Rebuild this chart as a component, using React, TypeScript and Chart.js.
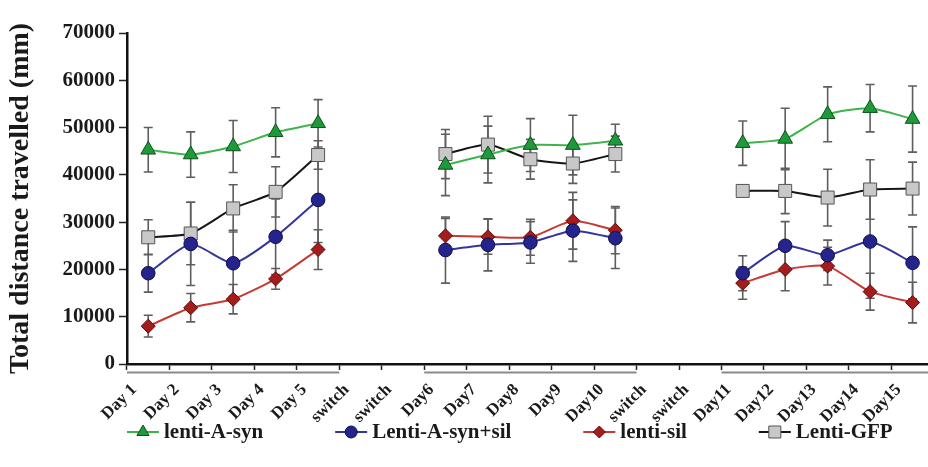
import React, { useEffect, useRef } from 'react';
import { Chart, registerables } from 'chart.js';

Chart.register(...registerables);

const categories = [
  'Day 1', 'Day 2', 'Day 3', 'Day 4', 'Day 5', 'switch', 'switch',
  'Day6', 'Day7', 'Day8', 'Day9', 'Day10', 'switch', 'switch',
  'Day11', 'Day12', 'Day13', 'Day14', 'Day15',
];

const seriesNames = ['lenti-A-syn', 'Lenti-A-syn+sil', 'lenti-sil', 'Lenti-GFP'];

const lentiASyn = [45300, 44300, 46000, 49000, 50900, null, null, 42100, 44300, 46300, 46300, 47200, null, null, 46700, 47600, 52800, 54100, 51800];
const lentiASynErr = [4700, 4800, 5500, 5200, 5000, null, null, 6500, 6000, 5600, 6300, 3500, null, null, 4700, 6500, 5800, 5000, 7000];

const lentiASynSil = [19200, 25400, 21300, 26900, 34700, null, null, 24100, 25200, 25700, 28200, 26600, null, null, 19200, 25000, 23000, 25900, 21400];
const lentiASynSilErr = [4000, 8800, 7000, 8000, 9000, null, null, 7000, 5500, 4400, 6500, 6400, null, null, 3700, 5100, 3200, 12000, 7600];

const lentiSil = [8000, 11900, 13700, 18000, 24200, null, null, 27100, 26900, 26800, 30300, 28300, null, null, 17100, 20000, 20700, 15300, 13000];
const lentiSilErr = [2300, 3000, 3100, 2200, 4200, null, null, 3700, 3700, 3800, 6000, 5000, null, null, 3400, 4500, 4000, 3900, 4300];

const lentiGFP = [26800, 27600, 32900, 36400, 44200, null, null, 44400, 46400, 43300, 42400, 44400, null, null, 36600, 36600, 35200, 36900, 37100];
const lentiGFPErr = [3700, 6600, 5000, 5300, 3000, null, null, 5200, 6000, 4200, 4200, 3800, null, null, 1000, 4800, 6000, 6300, 5600];

const yMin = 0;
const yMax = 70000;
const yStep = 10000;

const FONT = '"Liberation Serif", "Times New Roman", serif';

type Marker = 'triangle' | 'circle' | 'rectRot' | 'rect';

function drawMarker(ctx: CanvasRenderingContext2D, style: Marker, x: number, y: number, r: number, fill: string, stroke: string) {
  ctx.save();
  ctx.fillStyle = fill;
  ctx.strokeStyle = stroke;
  ctx.lineWidth = 1;
  ctx.beginPath();
  if (style === 'triangle') {
    ctx.moveTo(x, y - r);
    ctx.lineTo(x + r * 0.866, y + r * 0.5);
    ctx.lineTo(x - r * 0.866, y + r * 0.5);
    ctx.closePath();
  } else if (style === 'circle') {
    ctx.arc(x, y, r, 0, Math.PI * 2);
  } else if (style === 'rectRot') {
    ctx.moveTo(x, y - r);
    ctx.lineTo(x + r, y);
    ctx.lineTo(x, y + r);
    ctx.lineTo(x - r, y);
    ctx.closePath();
  } else {
    const s = r * Math.SQRT1_2;
    ctx.rect(x - s, y - s, 2 * s, 2 * s);
  }
  ctx.fill();
  ctx.stroke();
  ctx.restore();
}

const errorBarPlugin = {
  id: 'errorBars',
  beforeDatasetsDraw(chart: any) {
    const { ctx, scales } = chart;
    const x = scales.x;
    const y = scales.y;
    chart.data.datasets.forEach((ds: any) => {
      const errs: (number | null)[] = ds.errors || [];
      ds.data.forEach((v: number | null, i: number) => {
        const e = errs[i];
        if (v == null || e == null) return;
        const px = x.getPixelForValue(i);
        const top = y.getPixelForValue(v + e);
        const bot = y.getPixelForValue(Math.max(0, v - e));
        ctx.save();
        ctx.strokeStyle = '#5e5e5e';
        ctx.lineWidth = 1.6;
        ctx.beginPath();
        ctx.moveTo(px, top);
        ctx.lineTo(px, bot);
        ctx.moveTo(px - 4.5, top);
        ctx.lineTo(px + 4.5, top);
        ctx.moveTo(px - 4.5, bot);
        ctx.lineTo(px + 4.5, bot);
        ctx.stroke();
        ctx.restore();
      });
    });
  },
};

const groupLinePlugin = {
  id: 'groupLines',
  afterDraw(chart: any) {
    const { ctx, scales, chartArea } = chart;
    const x = scales.x;
    const half = (x.getPixelForValue(1) - x.getPixelForValue(0)) / 2;
    const labels: string[] = chart.data.labels;
    let start = -1;
    const yLine = chartArea.bottom + 8.5;
    ctx.save();
    ctx.strokeStyle = '#8a8a8a';
    ctx.lineWidth = 2;
    for (let i = 0; i <= labels.length; i++) {
      const isDay = i < labels.length && labels[i] !== 'switch';
      if (isDay && start < 0) start = i;
      if (!isDay && start >= 0) {
        ctx.beginPath();
        ctx.moveTo(x.getPixelForValue(start) - half, yLine);
        ctx.lineTo(x.getPixelForValue(i - 1) + half, yLine);
        ctx.stroke();
        start = -1;
      }
    }
    ctx.restore();
  },
};

const legendPlugin = {
  id: 'customLegend',
  afterDraw(chart: any) {
    const { ctx, chartArea } = chart;
    const yPos = chart.height - 35;
    let xPos = chartArea.left;
    ctx.save();
    ctx.font = `bold 21px ${FONT}`;
    ctx.textBaseline = 'middle';
    ctx.textAlign = 'left';
    chart.data.datasets.forEach((ds: any) => {
      ctx.strokeStyle = ds.borderColor;
      ctx.lineWidth = 2;
      ctx.beginPath();
      ctx.moveTo(xPos, yPos);
      ctx.lineTo(xPos + 32, yPos);
      ctx.stroke();
      drawMarker(ctx, ds.pointStyle, xPos + 16, yPos, ds.legendRadius, ds.pointBackgroundColor, ds.pointBorderColor);
      ctx.fillStyle = '#1a1a1a';
      ctx.fillText(ds.label, xPos + 37, yPos + 1);
      xPos += 37 + ctx.measureText(ds.label).width + 72;
    });
    ctx.restore();
  },
};

export default function App() {
  const canvasRef = useRef<HTMLCanvasElement | null>(null);

  useEffect(() => {
    const canvas = canvasRef.current;
    if (!canvas) return;
    const mk = (
      label: string,
      data: (number | null)[],
      errors: (number | null)[],
      line: string,
      fill: string,
      stroke: string,
      style: Marker,
      radius: number,
      legendRadius: number,
    ) => ({
      label,
      data,
      errors,
      borderColor: line,
      borderWidth: 2,
      pointStyle: style,
      pointRadius: radius,
      pointHoverRadius: radius,
      pointBackgroundColor: fill,
      pointBorderColor: stroke,
      pointBorderWidth: 1,
      legendRadius,
      tension: 0.2,
      spanGaps: false,
      fill: false,
    });

    const chart = new Chart(canvas, {
      type: 'line',
      data: {
        labels: categories,
        datasets: [
          mk(seriesNames[0], lentiASyn, lentiASynErr, '#3fb44c', '#1f9a3a', '#0f4f1c', 'triangle', 8.5, 7),
          mk(seriesNames[1], lentiASynSil, lentiASynSilErr, '#34349e', '#24248c', '#0e0e4e', 'circle', 6.8, 6),
          mk(seriesNames[2], lentiSil, lentiSilErr, '#c63a34', '#a51c1c', '#5a0a0a', 'rectRot', 7, 6),
          mk(seriesNames[3], lentiGFP, lentiGFPErr, '#151515', '#c8c8c8', '#555555', 'rect', 9.2, 8.5),
        ] as any,
      },
      options: {
        responsive: false,
        animation: false,
        devicePixelRatio: 1,
        layout: { padding: { top: 33, right: 4, bottom: 45, left: 0 } },
        plugins: {
          legend: { display: false },
          tooltip: { enabled: false },
        },
        scales: {
          x: {
            type: 'category',
            offset: true,
            grid: {
              offset: true,
              drawOnChartArea: false,
              drawTicks: true,
              tickLength: 6,
              tickColor: '#222',
              tickWidth: 1.5,
            },
            border: { display: true, color: '#111', width: 2.5 },
            ticks: {
              autoSkip: false,
              maxRotation: 45,
              minRotation: 45,
              labelOffset: -14,
              padding: 10,
              color: '#1a1a1a',
              font: { family: FONT, size: 17, weight: 'bold' },
            },
            afterFit: (scale: any) => {
              scale.height = 58;
            },
          },
          y: {
            min: yMin,
            max: yMax,
            grid: {
              drawOnChartArea: false,
              drawTicks: true,
              tickLength: 8,
              tickColor: '#222',
              tickWidth: 1.5,
            },
            border: { display: true, color: '#111', width: 2.5 },
            ticks: {
              stepSize: yStep,
              padding: 4,
              color: '#1a1a1a',
              font: { family: FONT, size: 21, weight: 'bold' },
              callback: (v: any) => String(v),
            },
            title: {
              display: true,
              text: 'Total distance travelled (mm)',
              color: '#1a1a1a',
              font: { family: FONT, size: 28, weight: 'bold' },
              padding: { top: 4, bottom: 0 },
            },
            afterFit: (scale: any) => {
              scale.width = 127;
            },
          },
        },
      } as any,
      plugins: [errorBarPlugin, groupLinePlugin, legendPlugin],
    });
    return () => chart.destroy();
  }, []);

  return (
    <div style={{ position: 'fixed', left: 0, top: 0, width: 928, height: 467, overflow: 'hidden', background: '#fff' }}>
      <canvas ref={canvasRef} width={944} height={467} style={{ display: 'block', width: 944, height: 467 }} />
    </div>
  );
}
